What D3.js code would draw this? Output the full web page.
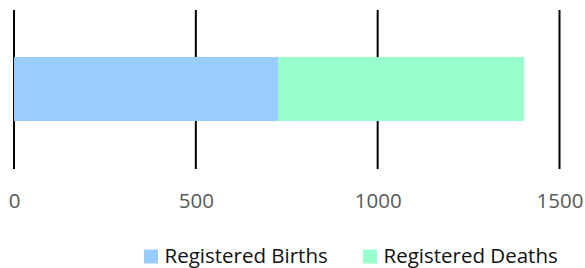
<!DOCTYPE html>
<html><head><meta charset="utf-8">
<script src="https://cdn.jsdelivr.net/npm/d3@7"></script>
<style>html,body{margin:0;padding:0;background:#fff;}svg{display:block;}</style>
</head><body>
<svg id="chart" width="585" height="268"></svg>
<script>
const categories = ["Total"];
const seriesNames = ["Registered Births", "Registered Deaths"];
const births = [726];
const deaths = [677];
const tickValues = [0, 500, 1000, 1500];
const colors = ["#99CCFF", "#99FFCC"];

const svg = d3.select("#chart");
const x = d3.scaleLinear().domain([0, 1500]).range([14, 559.5]);

const data = categories.map((c, i) => ({cat: c, "Registered Births": births[i], "Registered Deaths": deaths[i]}));
const stacked = d3.stack().keys(seriesNames)(data);

// gridlines
svg.append("g").selectAll("line").data(tickValues).join("line")
  .attr("x1", d => x(d)).attr("x2", d => x(d))
  .attr("y1", 10).attr("y2", 169)
  .attr("stroke", "#000").attr("stroke-width", 2);

// bars
svg.append("g").selectAll("g").data(stacked).join("g")
  .attr("fill", (d, i) => colors[i])
  .selectAll("rect").data(d => d).join("rect")
  .attr("x", d => x(d[0])).attr("width", d => x(d[1]) - x(d[0]))
  .attr("y", 57).attr("height", 64);

// axis labels
const axis = d3.axisBottom(x).tickValues(tickValues).tickFormat(d3.format("d")).tickSize(0).tickPadding(0);
const ag = svg.append("g").attr("transform", "translate(0,207.5)").call(axis);
ag.select(".domain").remove();
ag.selectAll("text").attr("dy", "0").attr("y", 0)
  .style("font-family", "'Open Sans', sans-serif").style("font-size", "20.5px").attr("fill", "#595959");

// legend
const legendItems = [{name: seriesNames[0], x: 144, color: colors[0]}, {name: seriesNames[1], x: 363, color: colors[1]}];
const lg = svg.append("g");
legendItems.forEach(it => {
  lg.append("rect").attr("x", it.x).attr("y", 249.5).attr("width", 14).attr("height", 14).attr("fill", it.color);
  lg.append("text").attr("x", it.x + 20.5).attr("y", 263.3)
    .style("font-family", "'Open Sans', sans-serif").style("font-size", "20.5px").attr("fill", "#111")
    .text(it.name);
});
</script>
</body></html>
